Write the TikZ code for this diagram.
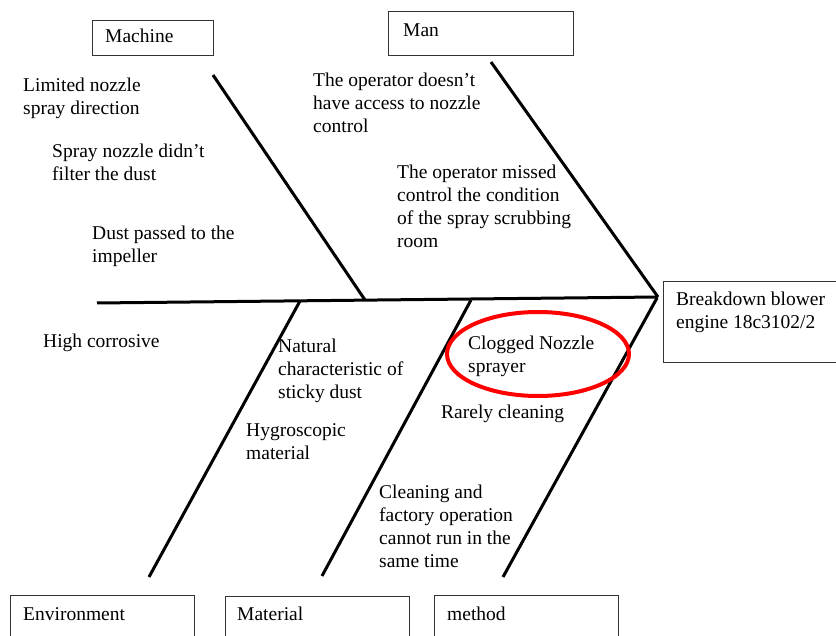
\documentclass[tikz,border=0pt]{standalone}
\usepackage{fontspec}
\setmainfont{Liberation Serif}
\begin{document}
\begin{tikzpicture}[x=1pt,y=-1pt,
  txt/.style={font=\fontsize{19.5}{23}\selectfont, align=left, inner sep=0pt, anchor=base west},
  box/.style={draw=black!80, line width=1.2pt, anchor=north west, inner sep=0pt},
  bone/.style={line width=3pt}]
\useasboundingbox (0,0) rectangle (836,636);
\clip (0,0) rectangle (836,636);
% boxes
\node[box, minimum width=121pt, minimum height=35pt] (machine) at (92,20) {};
\node[box, minimum width=185pt, minimum height=44pt] (man) at (388,11) {};
\node[box, minimum width=180pt, minimum height=81pt] (effect) at (663,281) {};
\node[box, minimum width=184pt, minimum height=60pt] (envbox) at (10,595) {};
\node[box, minimum width=184pt, minimum height=60pt] (matbox) at (225,596) {};
\node[box, minimum width=184pt, minimum height=60pt] (metbox) at (434,595) {};
% box labels (anchor = baseline of last line)
\node[txt] (machinelbl) at (105,43) {Machine};
\node[txt] (manlbl) at (403,37) {Man};
\node[txt] (effectlbl) at (676,329) {Breakdown blower\\engine 18c3102/2};
\node[txt] (envlbl) at (23,620) {Environment};
\node[txt] (matlbl) at (237,620) {Material};
\node[txt] (metlbl) at (447,620) {method};
% skeleton
\coordinate (tail) at (97,303);
\coordinate (head) at (658,297);
\coordinate (machtop) at (213,75);
\coordinate (machj) at (365,300);
\coordinate (mantop) at (491,62);
\coordinate (envj) at (300,301);
\coordinate (envend) at (149,577);
\coordinate (matj) at (471,300);
\coordinate (matend) at (322,576);
\coordinate (metj) at (657,298);
\coordinate (metend) at (503,577);
\draw[bone] (tail) -- (head);
\draw[bone] (machtop) -- (machj);
\draw[bone] (mantop) -- (head);
\draw[bone] (envj) -- (envend);
\draw[bone] (matj) -- (matend);
\draw[bone] (metj) -- (metend);
% causes
\node[txt] (c1) at (23,115) {Limited nozzle\\spray direction};
\node[txt] (c2) at (52,181) {Spray nozzle didn’t\\filter the dust};
\node[txt] (c3) at (92,263) {Dust passed to the\\impeller};
\node[txt] (c4) at (313,133) {The operator doesn’t\\have access to nozzle\\control};
\node[txt] (c5) at (397,248) {The operator missed\\control the condition\\of the spray scrubbing\\room};
\node[txt] (c6) at (43,348) {High corrosive};
\node[txt] (c7) at (278,399) {Natural\\characteristic of\\sticky dust};
\node[txt] (c8) at (246,459) {Hygroscopic\\material};
\node[txt] (c9) at (468,373) {Clogged Nozzle\\sprayer};
\node[txt] (c10) at (441,418) {Rarely cleaning};
\node[txt] (c11) at (379,567) {Cleaning and\\factory operation\\cannot run in the\\same time};
% highlight
\draw[red, line width=4pt] (538,354) ellipse [x radius=91pt, y radius=42pt];
\end{tikzpicture}
\end{document}
